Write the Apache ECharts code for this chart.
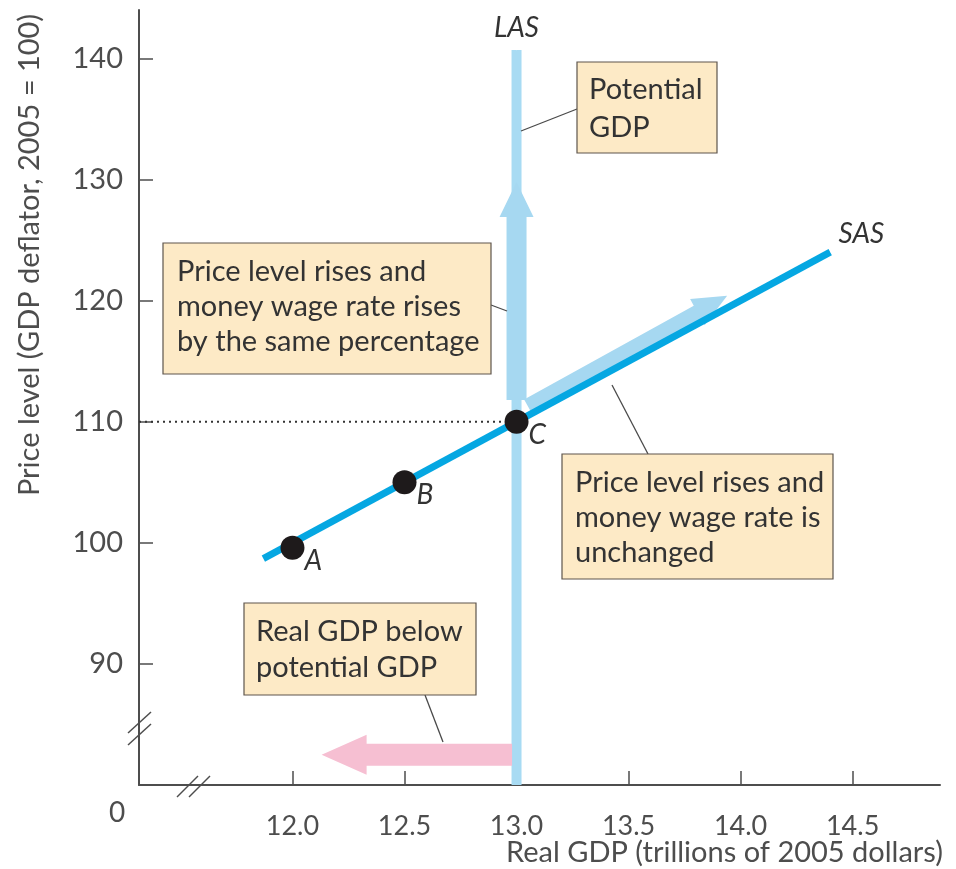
<!DOCTYPE html>
<html>
<head>
<meta charset="utf-8">
<script src="https://cdn.jsdelivr.net/npm/echarts@6/dist/echarts.min.js"></script>
<style>
html,body{margin:0;padding:0;background:#fff;}
#chart{width:956px;height:869px;}
</style>
</head>
<body>
<div id="chart"></div>
<script>
// ---- data ----
const xTicks = [12.0, 12.5, 13.0, 13.5, 14.0, 14.5];
const yTicks = [90, 100, 110, 120, 130, 140];
const xRange = [11.315, 14.89];
const yRange = [80, 144];
const lasX = 13.0;
const lasY = [80, 140.7];
const sasX = [11.87, 14.40];
const sasY = [98.7, 124.0];
const pointNames = ['A', 'B', 'C'];
const pointX = [12.0, 12.5, 13.0];
const pointY = [99.6, 105.0, 110.0];
const refPrice = 110;
const upArrow = [13.0, 111.8, 13.0, 129.8];
const diagArrow = [13.05, 111.3, 13.94, 120.4];
const leftArrow = [12.98, 82.5, 12.13, 82.5];

const FONT = 'Lato, "Open Sans", sans-serif';
const TXT = '#333333';
const AX = '#4d4d4d';
const BOX_FILL = '#fdeac6';
const BOX_STROKE = '#5e554d';

const chart = echarts.init(document.getElementById('chart'));

function arrowSeries(vals, opt) {
  return {
    type: 'custom',
    coordinateSystem: 'cartesian2d',
    z: opt.z,
    silent: true,
    encode: { x: [0, 2], y: [1, 3] },
    data: [vals],
    renderItem: function (params, api) {
      const p0 = api.coord([api.value(0), api.value(1)]);
      const p1 = api.coord([api.value(2), api.value(3)]);
      const dx = p1[0] - p0[0], dy = p1[1] - p0[1];
      const len = Math.hypot(dx, dy);
      const ux = dx / len, uy = dy / len;
      const nx = -uy, ny = ux;
      const bx = p1[0] - ux * opt.headLen, by = p1[1] - uy * opt.headLen;
      const sw = opt.shaftW / 2, hw = opt.headW / 2;
      const pts = [
        [p0[0] + nx * sw, p0[1] + ny * sw],
        [bx + nx * sw, by + ny * sw],
        [bx + nx * hw, by + ny * hw],
        [p1[0], p1[1]],
        [bx - nx * hw, by - ny * hw],
        [bx - nx * sw, by - ny * sw],
        [p0[0] - nx * sw, p0[1] - ny * sw]
      ];
      return { type: 'polygon', shape: { points: pts }, style: { fill: opt.color } };
    }
  };
}

function box(x, y, w, h, text, tx, ty, lh) {
  return [
    { type: 'rect', shape: { x: x, y: y, width: w, height: h }, style: { fill: BOX_FILL, stroke: BOX_STROKE, lineWidth: 1.2 }, z: 100 },
    { type: 'text', x: tx, y: ty, z: 101, style: { text: text, fontSize: 29, fontFamily: FONT, fill: TXT, lineHeight: lh, verticalAlign: 'top', align: 'left' } }
  ];
}
function leader(x1, y1, x2, y2) {
  return { type: 'line', shape: { x1: x1, y1: y1, x2: x2, y2: y2 }, style: { stroke: '#4a4a4a', lineWidth: 1.3 }, z: 99 };
}
const curveLabel = { fontSize: 28, fontStyle: 'italic', fontFamily: FONT, color: TXT, opacity: 1 };

const option = {
  animation: false,
  backgroundColor: '#ffffff',
  grid: { left: 139, right: 16, top: 10, bottom: 84, containLabel: false },
  xAxis: {
    type: 'value', min: xRange[0], max: xRange[1],
    splitLine: { show: false },
    axisLine: { show: true, onZero: false, lineStyle: { color: AX, width: 2 } },
    axisTick: { show: true, inside: true, length: 14, customValues: xTicks, lineStyle: { color: AX, width: 1.5 } },
    axisLabel: { customValues: xTicks, margin: 28, fontSize: 27, fontFamily: FONT, color: AX, formatter: v => v.toFixed(1) }
  },
  yAxis: {
    type: 'value', min: yRange[0], max: yRange[1],
    splitLine: { show: false },
    axisLine: { show: true, onZero: false, lineStyle: { color: AX, width: 2 } },
    axisTick: { show: true, inside: true, length: 14, customValues: yTicks, lineStyle: { color: AX, width: 1.5 } },
    axisLabel: { customValues: yTicks, margin: 16, fontSize: 29, fontFamily: FONT, color: AX }
  },
  series: [
    {
      type: 'line', z: 2, silent: true, symbol: 'none',
      data: [[lasX, lasY[0]], [lasX, lasY[1]]],
      lineStyle: { color: '#a8dbf3', width: 10, cap: 'butt' }
    },
    {
      type: 'scatter', z: 8, silent: true, symbolSize: 0.5,
      itemStyle: { color: '#ffffff', opacity: 1 },
      data: [{ name: 'LAS', value: [lasX, lasY[1]], label: { position: 'top', distance: 8 } },
             { name: 'SAS', value: [sasX[1], sasY[1]], label: { position: 'right', distance: 8, offset: [0, -18] } }],
      label: Object.assign({ show: true, formatter: p => p.name }, curveLabel)
    },
    arrowSeries(leftArrow, { color: '#f6bfd2', shaftW: 22, headW: 40, headLen: 45, z: 3 }),
    arrowSeries(upArrow, { color: '#a6d8f1', shaftW: 20, headW: 34, headLen: 35, z: 3 }),
    arrowSeries(diagArrow, { color: '#a6d8f1', shaftW: 15, headW: 30, headLen: 34, z: 3 }),
    {
      type: 'line', z: 5, silent: true, symbol: 'none',
      data: [[sasX[0], sasY[0]], [sasX[1], sasY[1]]],
      lineStyle: { color: '#05a7e2', width: 7, cap: 'butt' }
    },
    {
      type: 'line', z: 6, silent: true, symbol: 'none',
      data: [[xRange[0], refPrice], [pointX[2], refPrice]],
      lineStyle: { color: '#333', width: 2, type: [2, 4] }
    },
    {
      type: 'scatter', z: 7, silent: true,
      symbol: 'circle', symbolSize: 24,
      itemStyle: { color: '#1e1a1b', opacity: 1 },
      data: pointNames.map((n, i) => ({ name: n, value: [pointX[i], pointY[i]] })),
      label: Object.assign({ show: true, formatter: p => p.name, position: 'right', distance: 0, offset: [0, 13] }, curveLabel)
    }
  ],
  graphic: [
    // axis names
    { type: 'text', x: 943, y: 853, style: { text: 'Real GDP (trillions of 2005 dollars)', fontSize: 29, fontFamily: FONT, fill: AX, align: 'right', verticalAlign: 'middle' } },
    { type: 'text', x: 30, y: 255, rotation: Math.PI / 2, style: { text: 'Price level (GDP deflator, 2005 = 100)', fontSize: 29, fontFamily: FONT, fill: AX, align: 'center', verticalAlign: 'middle' } },
    { type: 'text', x: 117, y: 813, style: { text: '0', fontSize: 28, fontFamily: FONT, fill: AX, align: 'center', verticalAlign: 'middle' } },
    // axis breaks
    { type: 'line', shape: { x1: 128, y1: 733, x2: 151, y2: 712 }, style: { stroke: AX, lineWidth: 1.5 } },
    { type: 'line', shape: { x1: 128, y1: 745, x2: 151, y2: 724 }, style: { stroke: AX, lineWidth: 1.5 } },
    { type: 'line', shape: { x1: 177, y1: 797, x2: 198, y2: 776 }, style: { stroke: AX, lineWidth: 1.5 } },
    { type: 'line', shape: { x1: 189, y1: 797, x2: 210, y2: 776 }, style: { stroke: AX, lineWidth: 1.5 } },
    // callouts
    leader(521, 131, 577, 109),
    ...box(577, 62, 140, 91, 'Potential\nGDP', 589, 71, 38),
    leader(491, 305, 507, 311),
    ...box(163, 243, 328, 131, 'Price level rises and\nmoney wage rate rises\nby the same percentage', 177, 254, 35),
    leader(612, 385, 648, 454),
    ...box(562, 454, 271, 125, 'Price level rises and\nmoney wage rate is\nunchanged', 575, 465, 35),
    leader(425, 695, 443, 742),
    ...box(244, 603, 232, 92, 'Real GDP below\npotential GDP', 256, 614, 36)
  ]
};
chart.setOption(option);
</script>
</body>
</html>
